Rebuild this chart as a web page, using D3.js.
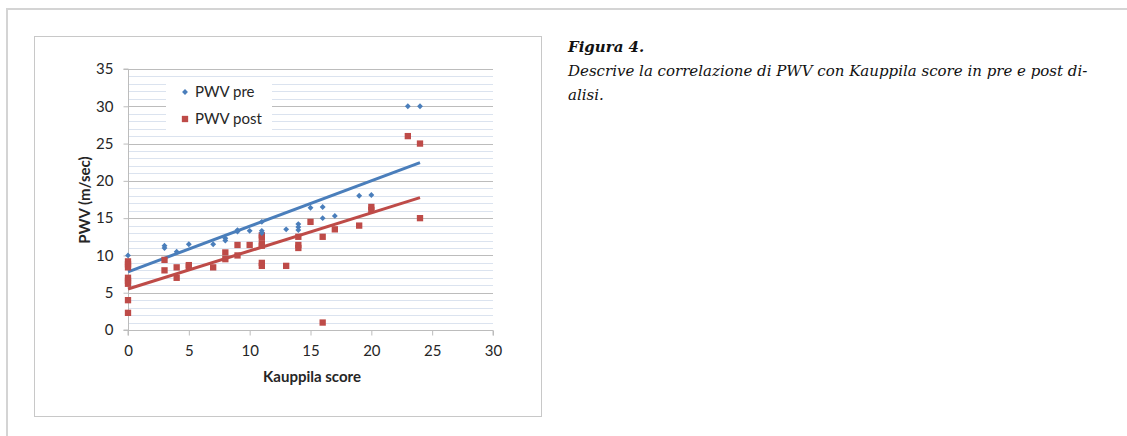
<!DOCTYPE html>
<html>
<head>
<meta charset="utf-8">
<script src="https://cdn.jsdelivr.net/npm/d3@7"></script>
<style>
  body { margin: 0; background: #fff; }
  svg { display: block; }
</style>
</head>
<body>
<div id="chart"></div>
<script>
// data
let prePoints = [
  [0, 10], [3, 11.3], [3, 11], [4, 10.5], [5, 11.5], [7, 11.5],
  [8, 12.3], [8, 12], [9, 13.4], [9, 13.2], [10, 13.3],
  [11, 14.5], [11, 13.3], [11, 13], [13, 13.5],
  [14, 14.2], [14, 13.8], [14, 13.4], [15, 16.4], [16, 16.5], [16, 15],
  [17, 15.3], [19, 18], [20, 18.1], [23, 30], [24, 30]
];
let postPoints = [
  [0, 9.2], [0, 8.8], [0, 8.4], [0, 7], [0, 6.6], [0, 6.2], [0, 4], [0, 2.3],
  [3, 9.4], [3, 8], [4, 8.4], [4, 7], [5, 8.7], [5, 8.5], [7, 8.4],
  [8, 10.4], [8, 9.5], [9, 11.4], [9, 10], [10, 11.4],
  [11, 12.7], [11, 12.4], [11, 11.6], [11, 11.3], [11, 9], [11, 8.6],
  [13, 8.6], [14, 12.5], [14, 11.4], [14, 11], [15, 14.5], [16, 12.5], [16, 1],
  [17, 13.5], [19, 14], [20, 16.5], [20, 16.1], [23, 26], [24, 25], [24, 15]
];
// linear trend lines as drawn in the figure
let preTrend = [[0, 7.8], [24, 22.45]];
let postTrend = [[0, 5.5], [24, 17.75]];

let xTicks = [0, 5, 10, 15, 20, 25, 30];
let yTicks = [0, 5, 10, 15, 20, 25, 30, 35];
let yMinor = d3.range(0, 36, 1);
let seriesNames = ["PWV pre", "PWV post"];
let captionLines = [
  "Descrive la correlazione di PWV con Kauppila score in pre e post di-",
  "alisi."
];

let svgWidth = 1127;
let svgHeight = 436;
let blue = "#4a7ebb";
let red = "#be4b48";
let chartFont = "Lato, 'Liberation Sans', sans-serif";

let svg = d3.select("#chart").append("svg")
  .attr("width", svgWidth)
  .attr("height", svgHeight);

// outer page frame
svg.append("path")
  .attr("d", "M7,436 V9 H1127")
  .attr("fill", "none")
  .attr("stroke", "#d4d4d4")
  .attr("stroke-width", 2);

// chart box
svg.append("rect")
  .attr("x", 34.5).attr("y", 36.5)
  .attr("width", 507).attr("height", 380)
  .attr("fill", "#fff")
  .attr("stroke", "#c8c8c8")
  .attr("stroke-width", 1);

let xScale = d3.scaleLinear().domain([0, 30]).range([128, 493]);
let yScale = d3.scaleLinear().domain([0, 35]).range([330, 69]);

// minor gridlines
svg.append("g").selectAll("line")
  .data(yMinor.filter(function(d) { return d % 5 !== 0; }))
  .enter().append("line")
  .attr("x1", xScale(0)).attr("x2", xScale(30))
  .attr("y1", function(d) { return Math.round(yScale(d)) + 0.5; })
  .attr("y2", function(d) { return Math.round(yScale(d)) + 0.5; })
  .attr("stroke", "#dbe3ef")
  .attr("stroke-width", 1);

// major gridlines
svg.append("g").selectAll("line")
  .data(yTicks.filter(function(d) { return d > 0; }))
  .enter().append("line")
  .attr("x1", xScale(0)).attr("x2", xScale(30))
  .attr("y1", function(d) { return Math.round(yScale(d)) + 0.5; })
  .attr("y2", function(d) { return Math.round(yScale(d)) + 0.5; })
  .attr("stroke", "#bcbcbc")
  .attr("stroke-width", 1);

// axes
let xAxis = d3.axisBottom(xScale).tickValues(xTicks).tickSize(5).tickPadding(10);
let yAxis = d3.axisLeft(yScale).tickValues(yTicks).tickSize(5).tickPadding(10);

let gx = svg.append("g")
  .attr("transform", "translate(0," + (Math.round(yScale(0)) + 0.5) + ")")
  .call(xAxis);
let gy = svg.append("g")
  .attr("transform", "translate(" + (Math.round(xScale(0)) + 0.5) + ",0)")
  .call(yAxis);

[gx, gy].forEach(function(g) {
  g.select(".domain").attr("stroke", "#bcbcbc");
  g.selectAll(".tick line").attr("stroke", "#bcbcbc");
  g.selectAll(".tick text")
    .attr("fill", "#262626")
    .style("font-family", chartFont)
    .style("font-size", "15px");
});
gx.select(".domain").attr("d", "M" + xScale(0) + ",5V0H" + xScale(30) + "V5");
gy.select(".domain").attr("d", "M-5," + yScale(35) + "H0V" + yScale(0) + "H-5");

// axis titles
svg.append("text")
  .attr("x", 312).attr("y", 382)
  .attr("text-anchor", "middle")
  .style("font-family", chartFont)
  .style("font-size", "15px")
  .style("font-weight", "bold")
  .attr("fill", "#262626")
  .text("Kauppila score");

svg.append("text")
  .attr("transform", "translate(90,200)rotate(-90)")
  .attr("text-anchor", "middle")
  .style("font-family", chartFont)
  .style("font-size", "15px")
  .style("font-weight", "bold")
  .attr("fill", "#262626")
  .text("PWV (m/sec)");

// trend lines
let line = d3.line()
  .x(function(d) { return xScale(d[0]); })
  .y(function(d) { return yScale(d[1]); });

svg.append("path").datum(preTrend)
  .attr("d", line).attr("fill", "none")
  .attr("stroke", blue).attr("stroke-width", 3);
svg.append("path").datum(postTrend)
  .attr("d", line).attr("fill", "none")
  .attr("stroke", red).attr("stroke-width", 3);

// points
let diamond = d3.symbol().type(d3.symbolDiamond2).size(22);
let square = d3.symbol().type(d3.symbolSquare).size(40);

svg.append("g").selectAll("path")
  .data(postPoints).enter().append("path")
  .attr("d", square)
  .attr("transform", function(d) { return "translate(" + xScale(d[0]) + "," + yScale(d[1]) + ")"; })
  .attr("fill", red);

svg.append("g").selectAll("path")
  .data(prePoints).enter().append("path")
  .attr("d", diamond)
  .attr("transform", function(d) { return "translate(" + xScale(d[0]) + "," + yScale(d[1]) + ")"; })
  .attr("fill", blue);

// legend
let legend = svg.append("g");
legend.append("rect")
  .attr("x", 166).attr("y", 79).attr("width", 106).attr("height", 52)
  .attr("fill", "#fff");
let legendItems = legend.selectAll("g.item")
  .data(seriesNames).enter().append("g")
  .attr("class", "item")
  .attr("transform", function(d, i) { return "translate(185," + (92 + i * 27) + ")"; });
legendItems.append("path")
  .attr("d", function(d, i) { return i === 0 ? diamond() : square(); })
  .attr("fill", function(d, i) { return i === 0 ? blue : red; });
legendItems.append("text")
  .attr("x", 10).attr("y", 5)
  .style("font-family", chartFont)
  .style("font-size", "15px")
  .attr("fill", "#262626")
  .text(function(d) { return d; });

// caption
let caption = svg.append("g")
  .style("font-family", "'DejaVu Serif', serif")
  .style("font-style", "italic")
  .attr("fill", "#111");
caption.append("text")
  .attr("x", 568).attr("y", 52)
  .style("font-size", "15px")
  .style("font-weight", "bold")
  .text("Figura 4.");
caption.selectAll("text.line")
  .data(captionLines).enter().append("text")
  .attr("class", "line")
  .attr("x", 568)
  .attr("y", function(d, i) { return 76 + i * 24; })
  .style("font-size", "15px")
  .text(function(d) { return d; });
</script>
</body>
</html>
